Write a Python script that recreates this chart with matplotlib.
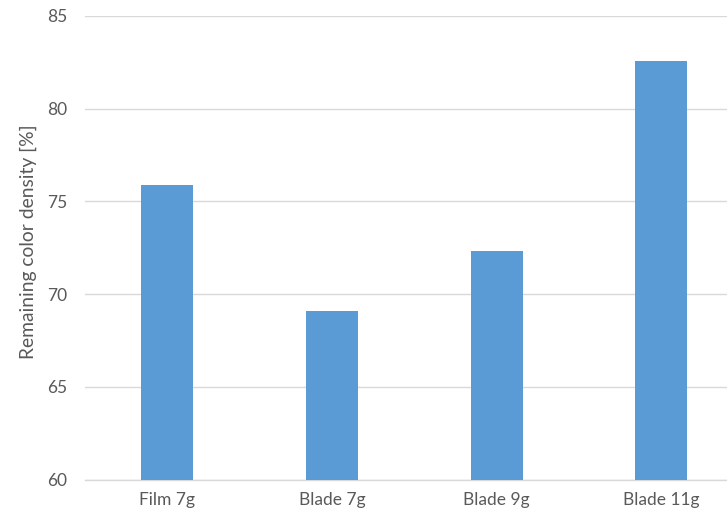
import matplotlib
matplotlib.use("Agg")
import matplotlib.pyplot as plt

categories = ["Film 7g", "Blade 7g", "Blade 9g", "Blade 11g"]
values = [75.9, 69.1, 72.35, 82.6]
y_ticks = [60, 65, 70, 75, 80, 85]

text_color = "#595959"
bar_color = "#5B9BD5"
grid_color = "#D9D9D9"

plt.rcParams["font.family"] = ["Lato", "DejaVu Sans"]

fig = plt.figure(figsize=(7.27, 5.16), dpi=100)
ax = fig.add_axes([0.117, 0.0705, 0.906, 0.8985])

x = range(len(categories))
ax.bar(x, values, width=0.315, color=bar_color, zorder=3)

ax.set_xlim(-0.5, len(categories) - 0.5)
ax.set_ylim(60, 85)
ax.set_yticks(y_ticks)
ax.set_xticks(list(x))
ax.set_xticklabels(categories)

ax.yaxis.grid(True, color=grid_color, linewidth=1.0, zorder=0)
ax.set_axisbelow(True)
for side in ["left", "right", "top"]:
    ax.spines[side].set_visible(False)
ax.spines["bottom"].set_color(grid_color)
ax.spines["bottom"].set_linewidth(1.0)

ax.tick_params(axis="y", length=0, pad=13, labelsize=12.5, labelcolor=text_color)
ax.tick_params(axis="x", length=0, pad=9, labelsize=12.5, labelcolor=text_color)

ax.set_ylabel("Remaining color density [%]", fontsize=13.9, color=text_color)
ax.yaxis.set_label_coords(-0.073, 0.514)

fig.savefig("out.png", dpi=100)
